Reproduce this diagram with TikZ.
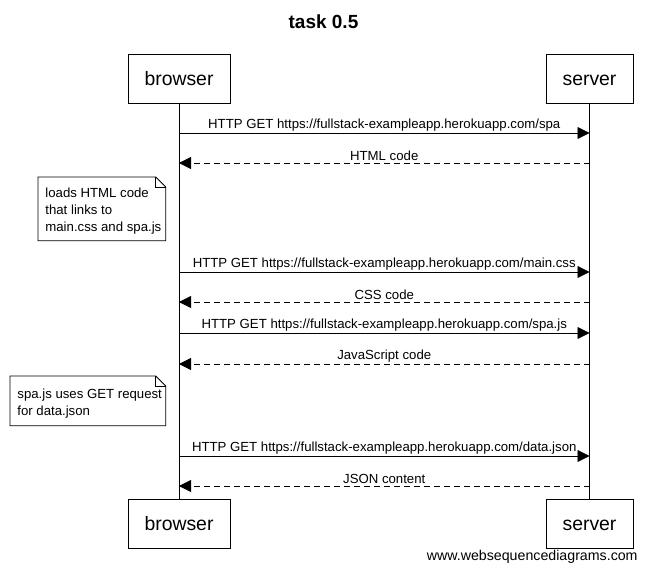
\documentclass[tikz,border=0pt]{standalone}
\usepackage{fontspec}
\setmainfont{Liberation Sans}
\usetikzlibrary{arrows.meta}

\begin{document}
\begin{tikzpicture}[x=1pt,y=-1pt,line width=0.8pt,
	actor/.style={draw, minimum height=49pt, inner sep=0pt, text height=14pt, text depth=0pt, font=\fontsize{19.4}{22}\selectfont},
	msg/.style={-{Triangle[length=12pt,width=12pt]}},
	reply/.style={msg, dash pattern=on 6pt off 4pt},
	lbl/.style={above, inner sep=1.5pt, font=\fontsize{13.2}{15}\selectfont},
	note/.style={anchor=north west, align=left, inner sep=0pt, font=\fontsize{13.2}{17}\selectfont}]

	\useasboundingbox (0,0) rectangle (647,572);

	\node (title) [font=\bfseries\fontsize{19}{22}\selectfont] at (323.5, 22) {task 0.5};

	\node (b0) [actor, minimum width=102pt] at (179, 78.5) {browser};
	\node (s0) [actor, minimum width=87pt] at (589.5, 78.5) {server};
	\node (b1) [actor, minimum width=102pt] at (179, 523.5) {browser};
	\node (s1) [actor, minimum width=87pt] at (589.5, 523.5) {server};

	\path
	(b0) edge (b1)
	(s0) edge (s1);

	% messages
	\coordinate (m1b) at (179, 133);  \coordinate (m1s) at (589.5, 133);
	\coordinate (m2b) at (179, 163);  \coordinate (m2s) at (589.5, 163);
	\coordinate (m3b) at (179, 272);  \coordinate (m3s) at (589.5, 272);
	\coordinate (m4b) at (179, 302);  \coordinate (m4s) at (589.5, 302);
	\coordinate (m5b) at (179, 333);  \coordinate (m5s) at (589.5, 333);
	\coordinate (m6b) at (179, 364);  \coordinate (m6s) at (589.5, 364);
	\coordinate (m7b) at (179, 456);  \coordinate (m7s) at (589.5, 456);
	\coordinate (m8b) at (179, 486);  \coordinate (m8s) at (589.5, 486);

	\path
	(m1b) edge[msg] node[lbl] {HTTP GET https://fullstack-exampleapp.herokuapp.com/spa} (m1s)
	(m2s) edge[reply] node[lbl] {HTML code} (m2b)
	(m3b) edge[msg] node[lbl] {HTTP GET https://fullstack-exampleapp.herokuapp.com/main.css} (m3s)
	(m4s) edge[reply] node[lbl] {CSS code} (m4b)
	(m5b) edge[msg] node[lbl] {HTTP GET https://fullstack-exampleapp.herokuapp.com/spa.js} (m5s)
	(m6s) edge[reply] node[lbl] {JavaScript code} (m6b)
	(m7b) edge[msg] node[lbl] {HTTP GET https://fullstack-exampleapp.herokuapp.com/data.json} (m7s)
	(m8s) edge[reply] node[lbl] {JSON content} (m8b);

	% notes
	\node (n1) [note, minimum width=127pt, minimum height=63pt] at (38, 177) {};
	\draw[fill=white] (n1.north west) -- ([xshift=-10pt]n1.north east) -- ([yshift=-10pt]n1.north east)
		-- (n1.south east) -- (n1.south west) -- cycle;
	\draw ([xshift=-10pt]n1.north east) |- ([yshift=-10pt]n1.north east);
	\node (t1) [note] at (45, 188) {loads HTML code\\that links to\\main.css and spa.js};

	\node (n2) [note, minimum width=155pt, minimum height=49pt] at (10, 376) {};
	\draw[fill=white] (n2.north west) -- ([xshift=-10pt]n2.north east) -- ([yshift=-10pt]n2.north east)
		-- (n2.south east) -- (n2.south west) -- cycle;
	\draw ([xshift=-10pt]n2.north east) |- ([yshift=-10pt]n2.north east);
	\node (t2) [note] at (17, 389) {spa.js uses GET request\\for data.json};

	\node (web) [anchor=east, inner sep=0pt, font=\fontsize{14.2}{16}\selectfont] at (638, 557) {www.websequencediagrams.com};

\end{tikzpicture}
\end{document}
